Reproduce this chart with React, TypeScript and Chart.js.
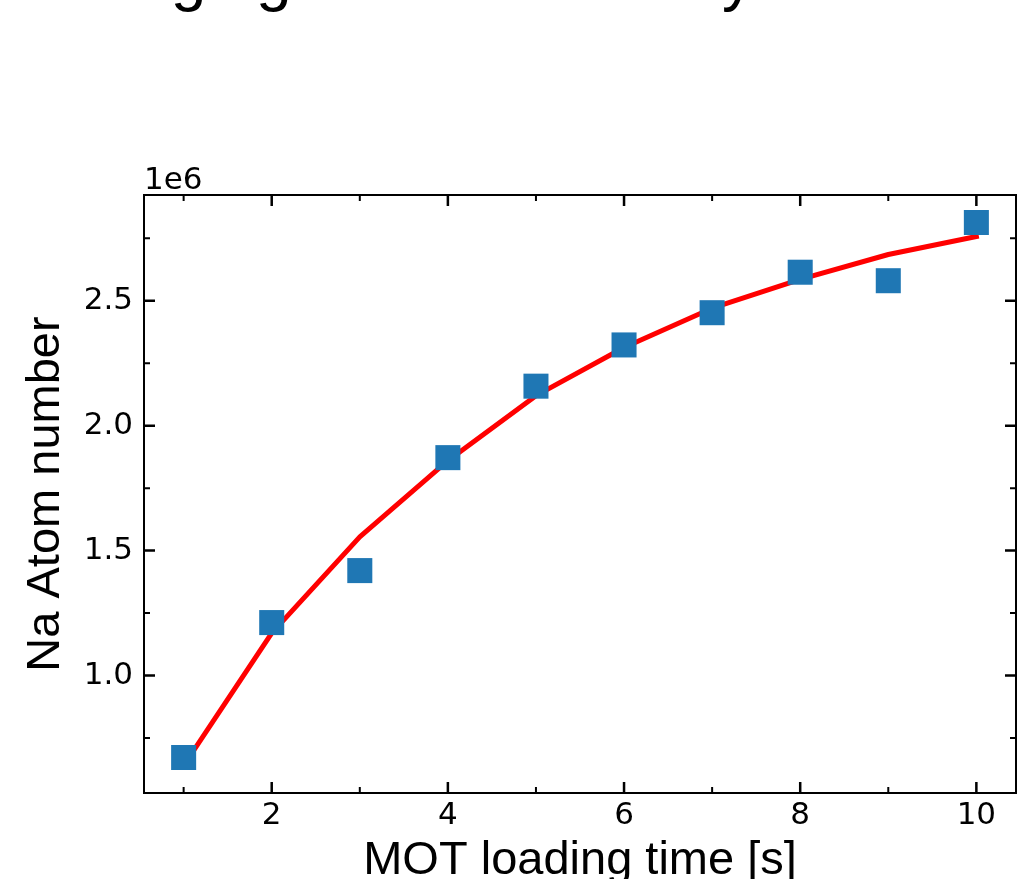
import React, { useEffect, useRef } from 'react';
import { Chart, registerables } from 'chart.js';

Chart.register(...registerables);

// ---- data ----
const LOADING_TIME_S = [1, 2, 3, 4, 5, 6, 7, 8, 9, 10];
const NA_ATOM_NUMBER = [0.672e6, 1.212e6, 1.42e6, 1.872e6, 2.158e6, 2.323e6, 2.452e6, 2.614e6, 2.58e6, 2.813e6];
const FIT_ATOM_NUMBER = [0.64e6, 1.17e6, 1.555e6, 1.86e6, 2.12e6, 2.313e6, 2.47e6, 2.585e6, 2.685e6, 2.757e6];

// ---- ticks / labels ----
const X_MAJOR_TICKS = [2, 4, 6, 8, 10];
const X_MINOR_TICKS = [1, 3, 5, 7, 9];
const Y_MAJOR_TICKS = [1.0e6, 1.5e6, 2.0e6, 2.5e6];
const Y_MINOR_TICKS = [0.75e6, 1.25e6, 1.75e6, 2.25e6, 2.75e6];
const Y_OFFSET_LABEL = '1e6';
const TITLE = 'Imaging with Sodium Cycles';
const X_LABEL = 'MOT loading time [s]';
const Y_LABEL = 'Na Atom number';

const X_MIN = 0.55;
const X_MAX = 10.45;
const Y_MIN = 0.53e6;
const Y_MAX = 2.923e6;

const W = 1024;
const H = 879;
const PLOT_LEFT = 144;
const PLOT_RIGHT = 1016;
const PLOT_TOP = 195;
const PLOT_BOTTOM = 793;

const TICK_FONT = "'DejaVu Sans', sans-serif";
const LABEL_FONT = "'Liberation Sans', Arial, sans-serif";

const mplFrame = {
  id: 'mplFrame',
  afterDatasetsDraw(chart: any) {
    const { ctx, chartArea: a, scales } = chart;
    const xs = scales.x;
    const ys = scales.y;
    ctx.save();
    ctx.strokeStyle = '#000';
    ctx.lineCap = 'butt';
    const drawX = (vals: number[], len: number, w: number) => {
      ctx.lineWidth = w;
      vals.forEach((v) => {
        const px = xs.getPixelForValue(v);
        ctx.beginPath();
        ctx.moveTo(px, a.bottom);
        ctx.lineTo(px, a.bottom - len);
        ctx.moveTo(px, a.top);
        ctx.lineTo(px, a.top + len);
        ctx.stroke();
      });
    };
    const drawY = (vals: number[], len: number, w: number) => {
      ctx.lineWidth = w;
      vals.forEach((v) => {
        const py = ys.getPixelForValue(v);
        ctx.beginPath();
        ctx.moveTo(a.left, py);
        ctx.lineTo(a.left + len, py);
        ctx.moveTo(a.right, py);
        ctx.lineTo(a.right - len, py);
        ctx.stroke();
      });
    };
    drawX(X_MAJOR_TICKS, 11, 2.5);
    drawX(X_MINOR_TICKS, 6, 2);
    drawY(Y_MAJOR_TICKS, 11, 2.5);
    drawY(Y_MINOR_TICKS, 6, 2);
    ctx.lineWidth = 2;
    ctx.strokeRect(a.left, a.top, a.right - a.left, a.bottom - a.top);

    ctx.fillStyle = '#000';
    ctx.font = `31px ${TICK_FONT}`;
    ctx.textAlign = 'left';
    ctx.textBaseline = 'alphabetic';
    ctx.fillText(Y_OFFSET_LABEL, a.left, a.top - 6.5);

    ctx.font = `64px ${LABEL_FONT}`;
    ctx.fillText(TITLE, 64, -1);
    ctx.restore();
  },
};

export default function App() {
  const ref = useRef<HTMLCanvasElement | null>(null);

  useEffect(() => {
    if (!ref.current) return;
    const chart = new Chart(ref.current, {
      type: 'scatter',
      data: {
        datasets: [
          {
            label: 'Measured',
            data: LOADING_TIME_S.map((t, i) => ({ x: t, y: NA_ATOM_NUMBER[i] })),
            pointStyle: 'rect',
            pointRadius: 17.7,
            pointHoverRadius: 17.7,
            backgroundColor: '#1f77b4',
            borderWidth: 0,
            showLine: false,
            order: 0,
          },
          {
            type: 'line',
            label: 'Fit',
            data: LOADING_TIME_S.map((t, i) => ({ x: t, y: FIT_ATOM_NUMBER[i] })),
            borderColor: '#ff0000',
            borderWidth: 5,
            pointRadius: 0,
            tension: 0,
            fill: false,
            borderCapStyle: 'square',
            borderJoinStyle: 'round',
            order: 1,
          } as any,
        ],
      },
      options: {
        responsive: false,
        animation: false,
        devicePixelRatio: 1,
        layout: {
          autoPadding: false,
          padding: { left: 0, right: W - PLOT_RIGHT, top: PLOT_TOP, bottom: 0 },
        },
        plugins: {
          legend: { display: false },
          tooltip: { enabled: false },
          title: { display: false },
        },
        scales: {
          x: {
            type: 'linear',
            min: X_MIN,
            max: X_MAX,
            grid: { display: false, drawTicks: false },
            border: { display: false },
            afterBuildTicks: (scale: any) => {
              scale.ticks = X_MAJOR_TICKS.map((v) => ({ value: v }));
            },
            afterFit: (scale: any) => {
              scale.height = H - PLOT_BOTTOM;
              scale.paddingLeft = 0;
              scale.paddingRight = 0;
            },
            ticks: {
              color: '#000',
              padding: 4,
              autoSkip: false,
              maxRotation: 0,
              font: { family: TICK_FONT, size: 31 },
              callback: (v: any) => String(v),
            },
            title: {
              display: true,
              text: X_LABEL,
              color: '#000',
              font: { family: LABEL_FONT, size: 47, lineHeight: 1.2 },
              padding: { top: 0, bottom: -10.5 },
            },
          },
          y: {
            type: 'linear',
            min: Y_MIN,
            max: Y_MAX,
            grid: { display: false, drawTicks: false },
            border: { display: false },
            afterBuildTicks: (scale: any) => {
              scale.ticks = Y_MAJOR_TICKS.map((v) => ({ value: v }));
            },
            afterFit: (scale: any) => {
              scale.width = PLOT_LEFT;
              scale.paddingTop = 0;
              scale.paddingBottom = 0;
            },
            ticks: {
              color: '#000',
              padding: 11,
              autoSkip: false,
              font: { family: TICK_FONT, size: 31 },
              callback: (v: any) => (Number(v) / 1e6).toFixed(1),
            },
            title: {
              display: true,
              text: Y_LABEL,
              color: '#000',
              font: { family: LABEL_FONT, size: 47, lineHeight: 1.2 },
              padding: { top: 18, bottom: 0 },
            },
          },
        },
      },
      plugins: [mplFrame],
    } as any);
    return () => chart.destroy();
  }, []);

  return (
    <div style={{ position: 'fixed', left: 0, top: 0, width: W, height: H, background: '#fff' }}>
      <canvas ref={ref} width={W} height={H} style={{ display: 'block', width: W, height: H }} />
    </div>
  );
}
